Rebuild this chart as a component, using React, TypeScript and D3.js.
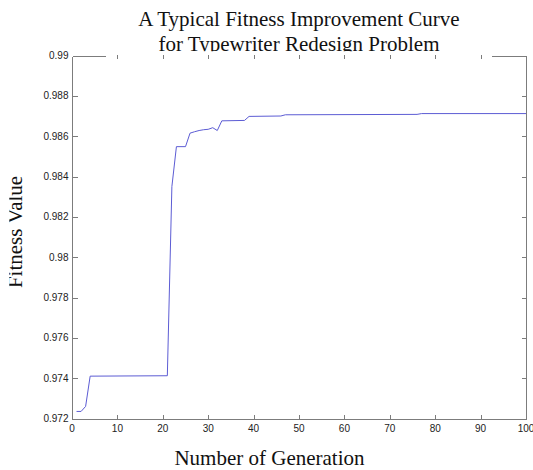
import * as d3 from "d3";

// generations where the curve bends, and the fitness read at each
const gens = [1, 2, 3, 4, 21, 22, 23, 25, 26, 27, 28, 29, 30, 31, 32, 33, 38, 39, 46, 47, 76, 77, 100];
const fitness = [
  0.97235, 0.97235, 0.9726, 0.9741, 0.97412, 0.9835, 0.98548, 0.98548, 0.98615, 0.98622, 0.98628,
  0.98632, 0.98634, 0.98642, 0.98628, 0.98676, 0.98678, 0.98698, 0.987, 0.98706, 0.98708, 0.98712,
  0.98712,
];

const xTicks = [0, 10, 20, 30, 40, 50, 60, 70, 80, 90, 100];
const yTicks = [0.972, 0.974, 0.976, 0.978, 0.98, 0.982, 0.984, 0.986, 0.988, 0.99];
const yTickLabels = ["0.972", "0.974", "0.976", "0.978", "0.98", "0.982", "0.984", "0.986", "0.988", "0.99"];

const titleLines = ["A Typical Fitness Improvement Curve", "for Typewriter Redesign Problem"];
const xTitle = "Number of Generation";
const yTitle = "Fitness Value";

const W = 533;
const H = 470;
const left = 72;
const right = 526;
const top = 55.5;
const bottom = 418.5;

const axisColor = "#7c7c7c";
const lineColor = "#5c5cd4";
const serif = "'Liberation Serif', 'Times New Roman', serif";
const sans = "'Liberation Sans', Arial, sans-serif";

export default function App() {
  const x = d3.scaleLinear().domain([0, 100]).range([left, right]);
  const y = d3.scaleLinear().domain([0.972, 0.99]).range([bottom, top]);

  const line = d3
    .line<number>()
    .x((_, i) => x(gens[i]))
    .y((d) => y(d));

  const px = (v: number) => Math.round(v) + 0.5;
  const gapL = 106;
  const gapR = 492;

  return (
    <div style={{ position: "absolute", left: 0, top: 0 }}>
      <svg width={W} height={H} style={{ display: "block", background: "#fff" }}>
        <defs>
          <clipPath id="titleClip">
            <rect x={0} y={0} width={W} height={51.3} />
          </clipPath>
        </defs>

        {/* frame: left, bottom, right, and the visible ends of the top edge */}
        <g stroke={axisColor} strokeWidth={1} fill="none" shapeRendering="crispEdges">
          <line x1={px(x(0))} x2={px(x(0))} y1={px(top)} y2={px(bottom)} />
          <line x1={px(x(100))} x2={px(x(100))} y1={px(top)} y2={px(bottom)} />
          <line x1={px(x(0))} x2={px(x(100))} y1={px(bottom)} y2={px(bottom)} />
          <line x1={px(x(0))} x2={gapL} y1={px(top)} y2={px(top)} />
          <line x1={gapR} x2={px(x(100))} y1={px(top)} y2={px(top)} />

          {xTicks.map((t) => (
            <g key={"xt" + t}>
              <line x1={px(x(t))} x2={px(x(t))} y1={px(bottom)} y2={px(bottom) - 5} />
              {t > 0 && t < 100 && (
                <line x1={px(x(t))} x2={px(x(t))} y1={px(top) - 2} y2={px(top) + 2} />
              )}
            </g>
          ))}
          {yTicks.map((t) => (
            <g key={"yt" + t}>
              <line x1={px(x(0))} x2={px(x(0)) + 5} y1={px(y(t))} y2={px(y(t))} />
              <line x1={px(x(100)) - 5} x2={px(x(100))} y1={px(y(t))} y2={px(y(t))} />
            </g>
          ))}
        </g>

        <g fontFamily={sans} fontSize={10} fill="#222">
          {xTicks.map((t) => (
            <text key={"xl" + t} x={x(t)} y={432} textAnchor="middle">
              {t}
            </text>
          ))}
          {yTicks.map((t, i) => (
            <text key={"yl" + t} x={68.5} y={y(t) + 3.6} textAnchor="end">
              {yTickLabels[i]}
            </text>
          ))}
        </g>

        <path d={line(fitness) ?? ""} fill="none" stroke={lineColor} strokeWidth={1} />

        {/* title sits on a white box that hides the middle of the top edge */}
        <rect x={gapL} y={0} width={gapR - gapL} height={top - 1.5} fill="#fff" />
        <g clipPath="url(#titleClip)" fontFamily={serif} fontSize={21} fill="#111" textAnchor="middle">
          <text x={(left + right) / 2} y={26}>
            {titleLines[0]}
          </text>
          <text x={(left + right) / 2} y={50.5}>
            {titleLines[1]}
          </text>
        </g>

        <text x={269.5} y={465} fontFamily={serif} fontSize={21} fill="#111" textAnchor="middle">
          {xTitle}
        </text>

        <text
          transform={`translate(22,${(top + bottom) / 2 - 5}) rotate(-90)`}
          fontFamily={serif}
          fontSize={21}
          fill="#111"
          textAnchor="middle"
        >
          {yTitle}
        </text>
        <rect x={0} y={150} width={9.3} height={170} fill="#fff" />
      </svg>
    </div>
  );
}
